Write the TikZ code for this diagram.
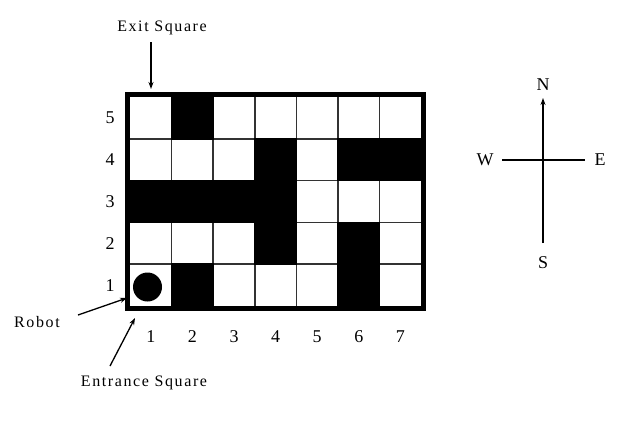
\documentclass[tikz,border=0pt]{standalone}
\usepackage{fontspec}
\setmainfont{Liberation Serif}
\newfontfamily\lblfont[LetterSpace=10]{Liberation Serif}
\usetikzlibrary{arrows.meta}
\begin{document}
\begin{tikzpicture}[x=1pt,y=-1pt,
  lbl/.style={font=\lblfont\fontsize{16}{18}\selectfont, inner sep=0pt},
  num/.style={font=\fontsize{18}{20}\selectfont, inner sep=0pt},
  cmp/.style={font=\fontsize{18}{20}\selectfont, inner sep=0pt},
  ptr/.style={line width=1.3pt, -{Stealth[length=7pt,width=5pt]}},
  gridline/.style={line width=1.5pt, black!80},
  border/.style={line width=4.5pt},
  cmpline/.style={line width=2pt}]
\useasboundingbox (0,0) rectangle (628,429);
\def\cw{41.6}
\def\ch{41.8}
% grid lines
\foreach \i in {1,...,6} \draw[gridline] ({130+\i*\cw},97) -- ++(0,209);
\foreach \j in {1,...,4} \draw[gridline] (130,{97+\j*\ch}) -- ++(291,0);
% walls
\foreach \c/\r in {2/5, 4/4, 6/4, 7/4, 1/3, 2/3, 3/3, 4/3, 4/2, 6/2, 2/1, 6/1}
  \fill ({130+(\c-1)*\cw-0.8},{97+(5-\r)*\ch-0.8}) rectangle ++({\cw+1.6},{\ch+1.6});
% border
\draw[border] (127.5,94.5) rectangle (423.5,308.5);
% robot
\node[circle, fill, minimum size=29pt, inner sep=0pt] (robot) at (147.5,287) {};
% row labels
\foreach \r in {1,...,5} \node[num] (row\r) at (110,{97+(5-\r+0.5)*\ch}) {\r};
% column labels
\foreach \c in {1,...,7} \node[num] (col\c) at ({130+(\c-0.5)*\cw},337) {\c};
% annotations
\node[lbl] (exit) at (162,28) {Exit Square};
\coordinate (exittail) at (151,42);
\coordinate (exittip) at (151,89);
\draw[ptr] (exittail) -- (exittip);
\node[lbl] (robotlbl) at (37,322) {Robot};
\coordinate (robottail) at (78,315);
\coordinate (robottip) at (127,298);
\draw[ptr] (robottail) -- (robottip);
\node[lbl] (entrance) at (144,383) {Entrance Square};
\coordinate (enttail) at (110,366);
\coordinate (enttip) at (135,318);
\draw[ptr] (enttail) -- (enttip);
% compass
\coordinate (cc) at (543,160);
\coordinate (ntip) at (543,98);
\coordinate (send) at (543,243);
\coordinate (wend) at (502,160);
\coordinate (eend) at (585,160);
\draw[cmpline, -{Stealth[length=7pt,width=5pt]}] (send) -- (ntip);
\draw[cmpline] (wend) -- (eend);
\node[cmp] (N) at (543,85) {N};
\node[cmp] (S) at (543,263) {S};
\node[cmp] (W) at (485,160) {W};
\node[cmp] (E) at (600,160) {E};
\end{tikzpicture}
\end{document}
